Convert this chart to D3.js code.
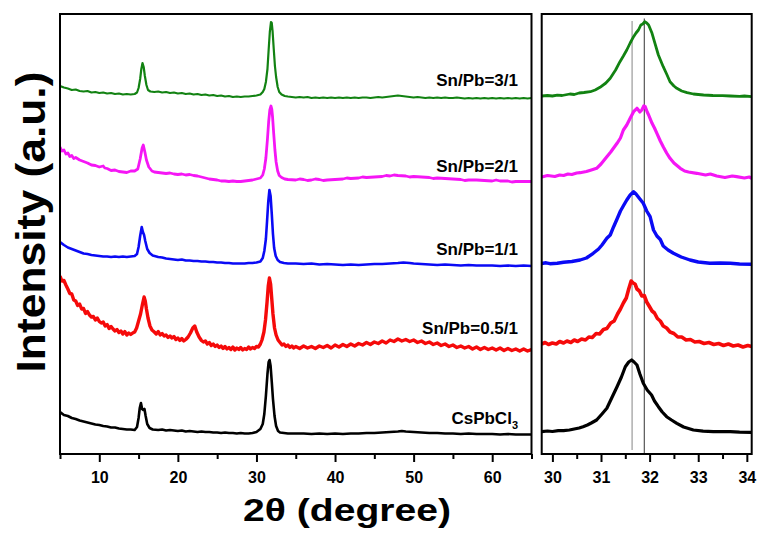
<!DOCTYPE html>
<html><head><meta charset="utf-8">
<script src="https://cdn.jsdelivr.net/npm/d3@7"></script>
<style>
html,body{margin:0;padding:0;background:#fff;}
svg{display:block;font-family:"Liberation Sans",Arial,Helvetica,sans-serif;}
</style></head><body>
<svg id="chart" width="760" height="533"></svg>
<script>
// ---------------- DATA ----------------
const seriesNames = ["Sn/Pb=3/1", "Sn/Pb=2/1", "Sn/Pb=1/1", "Sn/Pb=0.5/1", "CsPbCl3"];

// left panel: full scans [2theta, intensity (a.u., stacked)]
const green_full = [[5,368],[5.5,366.5],[6,365.5],[6.5,364],[7,364.5],[7.5,363],[8,362.5],[8.5,363],[9,361.5],[9.5,362],[10,361],[10.5,361.5],[11,360.5],[11.5,361],[12,360],[12.5,360.5],[13,359.5],[13.5,360],[14,359.5],[14.5,360],[14.8,361.5],[15,366],[15.2,375],[15.35,385],[15.5,391],[15.65,387],[15.8,378],[16,369],[16.2,364],[16.5,362.5],[17,362],[17.5,362.5],[18,361.5],[18.5,362],[19,361],[19.5,361.5],[20,360.5],[20.5,361],[21,360],[21.5,360.5],[22,359.5],[22.5,360],[23,359],[23.5,359.5],[24,358.5],[24.5,359],[25,358],[25.5,358.5],[26,357.5],[26.5,358],[27,357],[27.5,357.5],[28,357],[28.5,357.5],[29,357.5],[29.5,358],[30,358.5],[30.5,359.5],[30.8,362],[31,365],[31.2,372],[31.4,385],[31.55,404],[31.7,422],[31.85,432],[31.95,431],[32.05,423],[32.2,405],[32.35,388],[32.5,377],[32.7,367],[32.9,362],[33.2,359.5],[33.6,358],[34,357.5],[34.5,357],[35,356.5],[35.5,357],[36,356.5],[36.5,357],[37,356],[37.5,356.5],[38,356],[38.5,356.5],[39,356],[39.5,356.5],[40,356],[40.5,356.5],[41,356],[41.5,356.5],[42,356],[42.5,356.5],[43,356],[43.5,356.5],[44,356.5],[44.5,356],[45,356.5],[45.5,357],[46,356.5],[46.5,357],[47,357.5],[47.5,358],[48,358.5],[48.5,358],[49,357.5],[49.5,357],[50,356.5],[50.5,357],[51,356.5],[51.5,356],[52,356.5],[52.5,356],[53,356.5],[53.5,356],[54,356.5],[54.5,356],[55,356],[55.5,356.5],[56,356],[56.5,355.5],[57,356],[57.5,355.5],[58,356],[58.5,355.5],[59,356],[59.5,355.5],[60,356],[60.5,355.5],[61,356],[61.5,355.5],[62,356],[62.5,355.5],[63,356],[63.5,355.5],[64,356],[64.5,355.5],[65,356]];

const magenta_full = [[5,307],[5.25,303],[5.5,304],[5.75,300],[6,301],[6.25,297.5],[6.5,298.5],[6.75,295.5],[7,296.5],[7.5,294],[8,292.5],[8.5,291],[9,289],[9.5,288.5],[10,287],[10.5,288],[10.7,286],[11,285.5],[11.5,283.5],[12,284],[12.5,282.5],[13,282],[13.5,281.5],[14,283],[14.5,283],[14.9,285],[15.2,295],[15.45,306],[15.6,309],[15.8,302],[16,294],[16.3,287],[16.7,283],[17,282],[17.5,281.5],[18,281],[18.5,280.5],[19,281],[19.5,280],[20,279.5],[20.5,280],[21,279],[21.5,279.5],[22,278.5],[22.5,278],[23,277],[23.5,276],[24,275],[24.5,274.5],[25,274],[25.5,273],[26,273],[26.5,272.5],[27,273],[27.5,272.5],[28,272.5],[28.5,273],[29,273.5],[29.5,274],[30,275],[30.5,276],[30.8,279],[31,285],[31.2,296],[31.4,315],[31.55,332],[31.7,344],[31.85,348],[31.95,345],[32.05,337],[32.2,320],[32.35,304],[32.5,292],[32.7,283],[32.9,278.5],[33.2,276.5],[33.6,275],[34,274.5],[35,274],[35.5,275],[36,274.5],[36.5,273.5],[37,274],[37.5,275],[38,274.5],[38.5,273.5],[39,274],[40,274.5],[41,275],[41.5,276],[42,275.5],[43,276],[43.5,277],[44,276.5],[45,277],[46,277.5],[46.5,278.5],[47,278],[47.5,279],[48,278.5],[49,278],[49.5,277],[50,277.5],[51,277],[52,276.5],[52.5,275.5],[53,276],[54,275.5],[55,275],[56,274.5],[56.5,273.5],[57,274],[58,274],[59,273.5],[60,273],[60.5,274],[61,273],[62,273],[62.5,272],[63,272.5],[64,272.5],[65,272.5]];

const blue_full = [[5,212],[5.5,209],[6,206.5],[6.5,205],[7,203.5],[7.5,202],[8,200.5],[8.5,200],[9,199],[9.5,198.5],[10,198],[10.5,197.5],[11,197.5],[11.5,197],[12,197.5],[12.5,197],[13,197.5],[13.5,197],[14,197.5],[14.5,198],[14.8,200],[15,207],[15.2,218],[15.4,227],[15.55,222],[15.7,219],[15.85,213],[16.1,205],[16.4,201],[16.8,198.5],[17.5,197],[18,196.5],[18.5,195.5],[19,195],[19.5,194.5],[20,194],[20.5,194.5],[21,193.5],[21.5,193.5],[22,193],[22.5,193],[23,192.5],[23.5,192.5],[24,192],[24.5,192],[25,191.5],[25.5,191.5],[26,191],[26.5,191],[27,190.5],[27.5,190.5],[28,190.5],[28.5,190.5],[29,191],[29.5,191],[30,191.5],[30.5,192.5],[30.8,196],[31,203],[31.2,215],[31.35,233],[31.5,252],[31.65,264],[31.8,258],[31.95,240],[32.1,220],[32.25,206],[32.45,198],[32.7,194],[33,192],[33.5,191],[34,190.5],[35,190.5],[36,190],[37,190.5],[38,189.5],[39,190],[40,189.5],[41,189],[42,189.5],[43,189],[44,189.5],[45,190],[46,190],[47,190.5],[48,191],[48.7,191.5],[49.5,191],[50,190.5],[51,190],[52,189.5],[53,189],[54,189.5],[55,189],[56,188.5],[57,189],[58,188.5],[59,188.5],[60,188.5],[61,188],[62,188.5],[63,188],[64,188.5],[65,188]];

const red_full = [[5,178],[5.25,173],[5.5,173.5],[5.75,169],[6,165],[6.25,160.5],[6.5,160],[6.75,154],[7,153],[7.25,148.5],[7.5,150],[7.75,145],[8,145.5],[8.25,140.5],[8.5,142.5],[8.75,139],[9,137],[9.25,137.5],[9.5,134],[9.75,136],[10,132.5],[10.25,131],[10.5,132],[10.75,128],[11,129.5],[11.25,125.5],[11.5,127.5],[11.75,125],[12,123],[12.25,124.5],[12.5,121.5],[12.75,123],[13,120],[13.25,122.5],[13.5,119],[13.75,121],[14,119.5],[14.25,121],[14.5,122],[14.75,126],[15,133],[15.25,140],[15.5,150],[15.7,157],[15.85,153],[16,145],[16.2,136],[16.45,128],[16.7,124],[17,122],[17.25,120],[17.5,122.5],[17.75,119],[18,120.5],[18.25,118],[18.5,119],[18.75,116.5],[19,118],[19.25,116],[19.5,117.5],[19.75,114.5],[20,116],[20.25,113.5],[20.5,115.5],[20.75,113],[21,114.5],[21.3,117],[21.6,121],[21.9,126],[22.15,128],[22.4,122],[22.7,117],[23,113.5],[23.25,112],[23.5,113],[23.75,110],[24,111.5],[24.25,108.5],[24.5,110],[24.75,107.5],[25,109],[25.25,106.5],[25.5,108],[25.75,105.5],[26,107.5],[26.25,105],[26.5,106.5],[26.75,104.5],[27,107],[27.25,104],[27.5,106],[27.75,104.5],[28,106.5],[28.25,104],[28.5,105.5],[28.75,104.5],[29,107],[29.25,105],[29.5,106.5],[29.75,105.5],[30,107.5],[30.25,107],[30.5,110],[30.7,114],[30.95,122],[31.15,134],[31.35,152],[31.5,168],[31.65,176],[31.8,170],[31.95,155],[32.1,140],[32.3,126],[32.5,119],[32.75,114],[33,111.5],[33.25,109],[33.5,110],[33.75,107.5],[34,109],[34.25,106.5],[34.5,108],[34.75,106],[35,107.5],[35.5,105.5],[36,108],[36.5,106],[37,107.5],[37.5,105.5],[38,108],[38.5,106.5],[39,108.5],[39.5,106],[40,109],[40.5,107],[41,109.5],[41.5,107.5],[42,110],[42.5,108],[43,110.5],[43.5,109],[44,111.5],[44.5,109.5],[45,112],[45.5,110.5],[46,113],[46.5,111],[47,114],[47.5,112.5],[48,115],[48.5,113],[49,114.5],[49.5,112.5],[50,114],[50.5,111.5],[51,113],[51.5,110.5],[52,112],[52.5,109.5],[53,111],[53.5,108.5],[54,110],[54.5,107.5],[55,109],[55.5,106.5],[56,108],[56.5,106],[57,107.5],[57.5,105],[58,107],[58.5,104.5],[59,106.5],[59.5,104.5],[60,106],[60.5,104],[61,106],[61.5,103.5],[62,105.5],[62.5,103.5],[63,105],[63.5,103],[64,105],[64.5,103],[65,104.5]];

const black_full = [[5,42],[5.5,39],[6,38],[6.5,36],[7,35],[7.5,33.5],[8,32.5],[8.5,31.5],[9,30.5],[9.5,29.5],[10,29],[10.5,28],[11,27.5],[11.5,26.5],[12,26.5],[12.5,25.5],[13,25],[13.5,24.5],[14,24.5],[14.5,24],[14.8,27],[15,36],[15.15,46],[15.3,51],[15.45,45],[15.6,44],[15.75,45],[15.9,38],[16.1,30],[16.4,26],[16.8,24.5],[17.5,24],[18,24.5],[18.5,23.5],[19,24],[19.5,23.5],[20,23],[20.5,23.5],[21,22.5],[21.5,23],[22,22.5],[22.5,22],[23,22.5],[23.5,22],[24,22],[24.5,21.5],[25,21.5],[25.5,21],[26,21.5],[26.5,21],[27,21],[27.5,20.5],[28,21],[28.5,20.5],[29,20.5],[29.5,21],[30,22],[30.5,25],[30.8,30],[31,40],[31.2,58],[31.4,80],[31.55,92],[31.67,94],[31.8,88],[31.95,72],[32.1,55],[32.3,38],[32.5,28],[32.75,23],[33,21.5],[33.5,21],[34,20.5],[35,20.5],[36,20.5],[37,20],[38,20.5],[39,20],[40,20.5],[41,20],[42,20.5],[43,20.5],[44,21],[45,21],[46,21.5],[47,22],[48,22.5],[48.5,23],[49,22.5],[50,22],[51,21.5],[52,21],[53,21],[54,20.5],[55,20.5],[56,20],[57,20.5],[58,20],[59,20],[60,20],[61,19.5],[62,20],[63,19.5],[64,19.5],[65,19.5]];

// right panel: zoom on the (200) peak region
const green_zoom = [[29.78,358],[29.9,358.5],[30,358],[30.1,358.8],[30.2,358.5],[30.36,360],[30.45,359.5],[30.55,361],[30.65,361.5],[30.78,362.3],[30.88,364],[30.98,366.7],[31.1,371],[31.19,375.7],[31.3,384],[31.39,392.3],[31.46,398],[31.53,404],[31.6,411],[31.67,417.3],[31.72,421],[31.77,424],[31.82,429],[31.86,430],[31.9,432.3],[31.94,431],[31.98,429],[32.05,420.7],[32.11,410.7],[32.18,399],[32.28,387.3],[32.35,380],[32.42,372.3],[32.5,368],[32.56,365.7],[32.66,363],[32.77,361.3],[32.9,360],[33.0,359.5],[33.11,359],[33.3,358.5],[33.5,358.3],[33.66,358],[33.85,357.7],[33.95,358],[34.1,357.3]];

const magenta_zoom = [[29.78,277],[29.9,278.5],[30.05,277.5],[30.15,279],[30.23,278.5],[30.32,280],[30.4,279.5],[30.5,281],[30.57,281.3],[30.7,282.5],[30.8,284],[30.91,285.7],[31,290],[31.12,297.3],[31.2,302],[31.33,310.7],[31.4,316],[31.46,324],[31.53,329],[31.6,335.7],[31.67,342.3],[31.74,345.7],[31.8,342],[31.84,344],[31.88,348],[31.91,347.3],[31.95,342],[31.98,339],[32.05,330.7],[32.1,326],[32.15,320.7],[32.22,313],[32.28,307.3],[32.35,301],[32.42,295.7],[32.5,291],[32.63,285.7],[32.72,283],[32.8,282],[32.97,280.7],[33.15,279],[33.25,280],[33.38,278],[33.55,276.5],[33.7,278],[33.79,277.3],[33.95,276],[34.05,277],[34.1,275.7]];

const blue_zoom = [[29.78,190.5],[29.87,191.2],[29.95,190.3],[30.1,190.7],[30.23,191.7],[30.4,192.5],[30.57,194],[30.7,196],[30.84,200.7],[30.95,205],[31.02,209],[31.12,215.7],[31.19,219],[31.26,227.3],[31.33,235],[31.4,243],[31.47,249],[31.53,254],[31.6,259],[31.67,262.3],[31.72,260],[31.8,255],[31.87,250.7],[31.94,243],[32.01,237.3],[32.08,224],[32.15,218],[32.22,214.5],[32.28,208],[32.38,204],[32.49,200.7],[32.65,197],[32.83,194],[33,192],[33.24,190.7],[33.45,191],[33.66,190.7],[33.85,190],[34.1,189.7]];

const red_zoom = [[29.78,110],[29.85,111.5],[29.92,109.5],[30,111],[30.08,110],[30.15,112.5],[30.23,111],[30.3,113],[30.38,111.5],[30.45,114],[30.52,112.5],[30.6,115],[30.68,114],[30.75,117],[30.82,116.5],[30.9,120.5],[30.97,120],[31.05,124.5],[31.12,125.5],[31.2,131],[31.27,133],[31.34,140],[31.4,145],[31.46,151],[31.52,156],[31.57,165],[31.62,173],[31.66,171],[31.7,170],[31.74,165],[31.79,163],[31.84,158],[31.89,158.5],[31.94,152],[31.99,148],[32.05,143],[32.1,141],[32.16,135.5],[32.22,133],[32.28,128],[32.35,126],[32.42,122],[32.5,120.5],[32.58,117],[32.66,117],[32.75,114],[32.84,114.5],[32.93,112],[33.02,112.5],[33.12,110.5],[33.22,111.5],[33.32,109.5],[33.42,110.5],[33.52,108.5],[33.62,110],[33.72,108],[33.82,109],[33.92,107],[34.02,108.5],[34.1,107.5]];

const black_zoom = [[29.78,22.3],[29.9,23],[30,22.5],[30.12,23.3],[30.23,23.3],[30.35,24],[30.45,25],[30.55,26],[30.63,27.3],[30.72,29],[30.8,31],[30.91,34],[31.02,40],[31.12,45.7],[31.22,56],[31.33,67.3],[31.42,77],[31.5,87.3],[31.57,92],[31.63,94],[31.68,92],[31.74,89],[31.8,80],[31.87,70.7],[31.95,64],[32.04,59],[32.1,53],[32.18,47.3],[32.26,42],[32.35,37.3],[32.45,34],[32.56,30.7],[32.7,27],[32.8,25.5],[32.9,24],[33.1,22.8],[33.31,22.3],[33.5,22.5],[33.66,22.3],[33.85,21.8],[34.1,21.7]];

const fullScans = [green_full, magenta_full, blue_full, red_full, black_full];
const zoomScans = [green_zoom, magenta_zoom, blue_zoom, red_zoom, black_zoom];

const leftMajorTicks = [10, 20, 30, 40, 50, 60];
const leftMinorTicks = [5, 15, 25, 35, 45, 55, 65];
const rightMajorTicks = [30, 31, 32, 33, 34];
const rightMinorTicks = [30.5, 31.5, 32.5, 33.5];
const refLines = [31.64, 31.89];   // guide lines in the zoom panel (2θ)

// ---------------- LAYOUT / STYLE ----------------
const colors = ["#128212", "#f516f5", "#0a0af5", "#f50a0a", "#000000"];
const widthsL = [2.2, 2.8, 2.6, 3.4, 2.6];
const widthsR = [2.8, 3.2, 3.4, 3.6, 3.2];
const labelBase = [86, 171.5, 255, 333.5, 423.5];
const plotTop = 14, plotBottom = 454;
const Lx0 = 60, Lx1 = 531.5, Rx0 = 541.7, Rx1 = 751.7;

const svg = d3.select("#chart");
const xL = d3.scaleLinear().domain([5, 65]).range([Lx0, Lx1]);
const xR = d3.scaleLinear().domain([29.78, 34.1]).range([Rx0, Rx1]);
const y = d3.scaleLinear().domain([0, 440]).range([plotBottom, plotTop]);

const defs = svg.append("defs");
defs.append("clipPath").attr("id", "clipL").append("rect")
  .attr("x", Lx0).attr("y", plotTop).attr("width", Lx1 - Lx0).attr("height", plotBottom - plotTop);
defs.append("clipPath").attr("id", "clipR").append("rect")
  .attr("x", Rx0).attr("y", plotTop).attr("width", Rx1 - Rx0).attr("height", plotBottom - plotTop);

// reference lines (drawn under curves)
const gRef = svg.append("g");
gRef.append("line").attr("x1", xR(refLines[0])).attr("x2", xR(refLines[0]))
  .attr("y1", y(433)).attr("y2", y(4)).attr("stroke", "#b3b3b3").attr("stroke-width", 1.6);
gRef.append("line").attr("x1", xR(refLines[1])).attr("x2", xR(refLines[1]))
  .attr("y1", y(435.5)).attr("y2", y(0)).attr("stroke", "#333").attr("stroke-width", 1);

const lineL = d3.line().x(d => xL(d[0])).y(d => y(d[1]));
const lineR = d3.line().x(d => xR(d[0])).y(d => y(d[1]));

const gL = svg.append("g").attr("clip-path", "url(#clipL)");
gL.selectAll("path").data(fullScans).join("path")
  .attr("d", lineL).attr("fill", "none")
  .attr("stroke", (d, i) => colors[i]).attr("stroke-width", (d, i) => widthsL[i])
  .attr("stroke-linejoin", "round");

const gR = svg.append("g").attr("clip-path", "url(#clipR)");
gR.selectAll("path").data(zoomScans).join("path")
  .attr("d", lineR).attr("fill", "none")
  .attr("stroke", (d, i) => colors[i]).attr("stroke-width", (d, i) => widthsR[i])
  .attr("stroke-linejoin", "round");

// frames
[[Lx0, Lx1], [Rx0, Rx1]].forEach(([a, b]) => {
  svg.append("rect").attr("x", a).attr("y", plotTop).attr("width", b - a).attr("height", plotBottom - plotTop)
    .attr("fill", "none").attr("stroke", "#000").attr("stroke-width", 2);
});

// axes
function styleAxis(g) {
  g.select(".domain").remove();
  g.selectAll(".tick line").attr("stroke", "#000").attr("stroke-width", 2);
  g.selectAll(".tick text").attr("fill", "#000").attr("font-size", 16).attr("font-weight", "bold")
    .attr("font-family", '"Liberation Sans", Arial, sans-serif');
}
svg.append("g").attr("transform", `translate(0,${plotBottom})`)
  .call(d3.axisBottom(xL).tickValues(leftMinorTicks).tickSize(5).tickFormat(""))
  .call(styleAxis);
svg.append("g").attr("transform", `translate(0,${plotBottom})`)
  .call(d3.axisBottom(xL).tickValues(leftMajorTicks).tickSize(8).tickPadding(10).tickFormat(d3.format("d")))
  .call(styleAxis);
svg.append("g").attr("transform", `translate(0,${plotBottom})`)
  .call(d3.axisBottom(xR).tickValues(rightMinorTicks).tickSize(5).tickFormat(""))
  .call(styleAxis);
svg.append("g").attr("transform", `translate(0,${plotBottom})`)
  .call(d3.axisBottom(xR).tickValues(rightMajorTicks).tickSize(8).tickPadding(10).tickFormat(d3.format("d")))
  .call(styleAxis);

// series labels
const labG = svg.append("g").attr("font-size", 17).attr("font-weight", "bold").attr("fill", "#000");
seriesNames.forEach((name, i) => {
  const t = labG.append("text").attr("x", 518).attr("y", labelBase[i]).attr("text-anchor", "end");
  if (name === "CsPbCl3") {
    t.append("tspan").text("CsPbCl");
    t.append("tspan").attr("font-size", 11).attr("dy", 5).text("3");
  } else {
    t.text(name);
  }
});

// axis titles
svg.append("text").attr("x", 347).attr("y", 521).attr("text-anchor", "middle")
  .attr("font-size", 32).attr("font-weight", "bold").attr("fill", "#000")
  .attr("textLength", 208).attr("lengthAdjust", "spacingAndGlyphs")
  .text("2θ (degree)");
svg.append("text").attr("transform", "translate(45,222) rotate(-90)").attr("text-anchor", "middle")
  .attr("font-size", 41).attr("font-weight", "bold").attr("fill", "#000")
  .attr("textLength", 301).attr("lengthAdjust", "spacingAndGlyphs")
  .text("Intensity (a.u.)");
</script>
</body></html>
